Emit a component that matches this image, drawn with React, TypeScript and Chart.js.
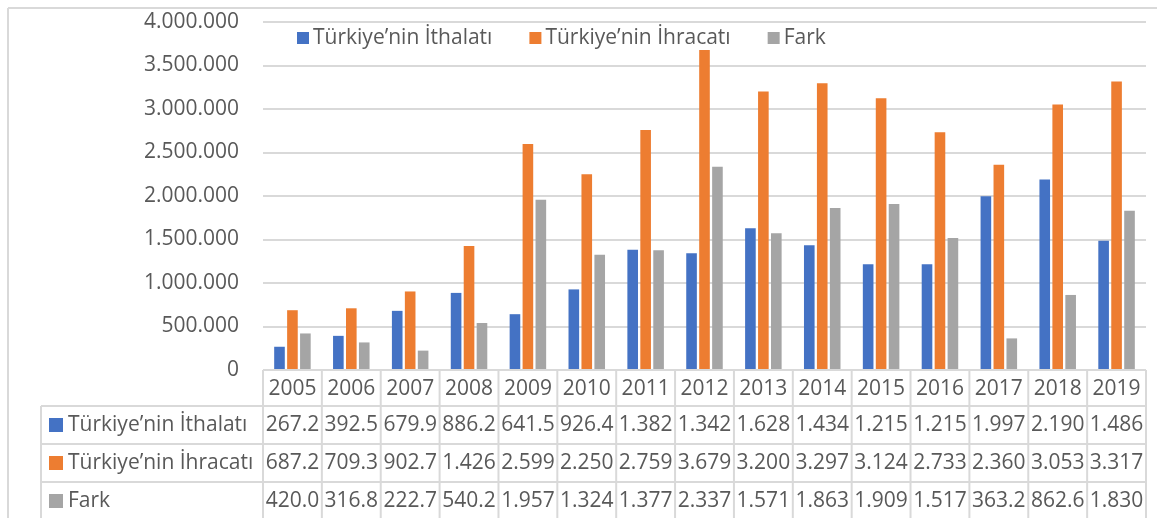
import { useEffect, useRef } from 'react';
import { Chart, registerables } from 'chart.js';

Chart.register(...registerables);

const years = ['2005', '2006', '2007', '2008', '2009', '2010', '2011', '2012', '2013', '2014', '2015', '2016', '2017', '2018', '2019'];
const ithalat = [267200, 392500, 679900, 886200, 641500, 926400, 1382000, 1342000, 1628000, 1434000, 1215000, 1215000, 1997000, 2190000, 1486000];
const ihracat = [687200, 709300, 902700, 1426000, 2599000, 2250000, 2759000, 3679000, 3200000, 3297000, 3124000, 2733000, 2360000, 3053000, 3317000];
const fark = [420000, 316800, 222700, 540200, 1957000, 1324000, 1377000, 2337000, 1571000, 1863000, 1909000, 1517000, 363200, 862600, 1830000];

const seriesNames = ['Türkiye’nin İthalatı', 'Türkiye’nin İhracatı', 'Fark'];
const seriesColors = ['#4472C4', '#ED7D31', '#A5A5A5'];
const yMin = 0;
const yMax = 4000000;
const yStep = 500000;

const FONT = "'Open Sans', sans-serif";
const TEXT = '#595959';
const LINE = '#d9d9d9';

function fmtTick(v: number): string {
  return Math.round(v).toString().replace(/\B(?=(\d{3})+(?!\d))/g, '.');
}
function fmtCell(v: number): string {
  if (v < 1000000) return (v / 1000).toFixed(1);
  return (v / 1000000).toFixed(3);
}

const tablePlugin = {
  id: 'dataTableAndLegend',
  afterDraw(chart: any) {
    const { ctx, chartArea } = chart;
    const L = chartArea.left;
    const R = chartArea.right;
    const T = chartArea.bottom;
    const n = years.length;
    const w = (R - L) / n;
    const headerH = 36;
    const rowH = 38;
    const labelLeft = 41;
    const H = chart.height;
    const data = [ithalat, ihracat, fark];
    ctx.save();
    ctx.strokeStyle = LINE;
    ctx.lineWidth = 2;
    const line = (x1: number, y1: number, x2: number, y2: number) => {
      ctx.beginPath();
      ctx.moveTo(x1, y1);
      ctx.lineTo(x2, y2);
      ctx.stroke();
    };
    // outer chart border
    line(8, H + 2, 8, 8);
    line(8, 8, chart.width + 2, 8);
    // table lines
    line(L, T, R, T);
    for (let r = 0; r < 3; r++) {
      const y = T + headerH + r * rowH;
      line(labelLeft, y, R, y);
    }
    for (let i = 0; i <= n; i++) {
      const x = L + i * w;
      line(x, T, x, H + 2);
    }
    line(labelLeft, T + headerH, labelLeft, H + 2);

    ctx.fillStyle = TEXT;
    ctx.font = `21px ${FONT}`;
    ctx.textBaseline = 'middle';
    ctx.textAlign = 'center';
    for (let i = 0; i < n; i++) {
      const cx = chart.scales.x.getPixelForValue(i);
      ctx.fillText(years[i], cx, T + headerH / 2 + 1);
      for (let r = 0; r < 3; r++) {
        const cy = T + headerH + r * rowH + rowH / 2;
        ctx.fillText(fmtCell(data[r][i]), cx, cy);
      }
    }
    // row labels
    ctx.textAlign = 'left';
    for (let r = 0; r < 3; r++) {
      const cy = T + headerH + r * rowH + rowH / 2;
      ctx.fillStyle = seriesColors[r];
      ctx.fillRect(49, cy - 7, 14, 14);
      ctx.fillStyle = TEXT;
      ctx.fillText(seriesNames[r], 68, cy);
    }
    // legend
    let lx = 297;
    const ly = 38;
    for (let s = 0; s < 3; s++) {
      ctx.fillStyle = seriesColors[s];
      ctx.fillRect(lx, ly - 6, 12, 12);
      ctx.fillStyle = TEXT;
      const tx = lx + 16;
      ctx.fillText(seriesNames[s], tx, ly);
      lx = tx + ctx.measureText(seriesNames[s]).width + 37;
    }
    ctx.restore();
  },
};

export default function App() {
  const ref = useRef<HTMLCanvasElement | null>(null);
  useEffect(() => {
    if (!ref.current) return;
    const chart = new Chart(ref.current, {
      type: 'bar',
      data: {
        labels: years,
        datasets: [
          { label: seriesNames[0], data: ithalat, backgroundColor: seriesColors[0], categoryPercentage: 0.66, barPercentage: 0.82 },
          { label: seriesNames[1], data: ihracat, backgroundColor: seriesColors[1], categoryPercentage: 0.66, barPercentage: 0.82 },
          { label: seriesNames[2], data: fark, backgroundColor: seriesColors[2], categoryPercentage: 0.66, barPercentage: 0.82 },
        ],
      },
      options: {
        responsive: false,
        animation: false,
        layout: { padding: { left: 0, right: 11, top: 22, bottom: 148 } },
        plugins: {
          legend: { display: false },
          tooltip: { enabled: false },
        },
        scales: {
          x: {
            grid: { display: false },
            border: { display: false },
            ticks: { display: false },
            afterFit: (s: any) => { s.height = 0; },
          },
          y: {
            min: yMin,
            max: yMax,
            ticks: {
              stepSize: yStep,
              padding: 24,
              color: TEXT,
              font: { family: FONT, size: 21 },
              callback: (v: any) => fmtTick(Number(v)),
            },
            grid: { color: LINE, lineWidth: 2, drawTicks: false },
            border: { display: false },
            afterFit: (s: any) => { s.width = 263; s.paddingTop = 0; s.paddingBottom = 0; },
          },
        },
      },
      plugins: [tablePlugin],
    });
    return () => chart.destroy();
  }, []);
  return (
    <div style={{ position: 'fixed', left: 0, top: 0, width: 1157, height: 518, overflow: 'hidden', background: '#fff' }}>
      <canvas ref={ref} width={1157} height={518} style={{ width: 1157, height: 518, display: 'block' }} />
    </div>
  );
}
